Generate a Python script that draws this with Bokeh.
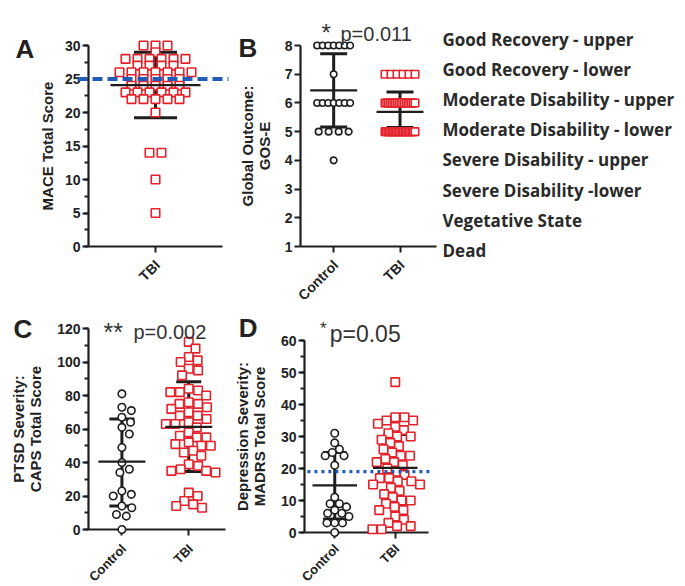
import math
from collections import Counter
from bokeh.plotting import figure
from bokeh.models import Range1d, SingleIntervalTicker, FixedTicker, ColumnDataSource
from bokeh.layouts import column, row
from bokeh.embed import file_html
from bokeh.resources import INLINE
from bokeh.core.properties import value

# ---------------- data ----------------
group_names = ["Control", "TBI"]

# A: MACE total score (TBI only)
mace_tbi = [30, 30, 30, 29, 28, 28, 28, 28, 28, 28, 27, 27, 27, 27,
            26, 26, 26, 26, 26, 26, 26, 25, 25, 25, 25, 25,
            24, 24, 24, 24, 24, 23, 23, 23, 23, 23, 23,
            22, 22, 22, 22, 22, 20, 14, 14, 10, 5]
mace_mean = [24.1]
mace_lo = [19.2]
mace_hi = [29.0]
mace_cutoff = 25

# B: GOS-E
gose_control = [8, 8, 8, 8, 8, 8, 8, 7, 6, 6, 6, 6, 6, 6, 6, 5, 5, 5, 5, 4]
gose_tbi = [7, 7, 7, 7, 7, 7,
            6, 6, 6, 6, 6, 6, 6, 6, 6, 6, 6, 6, 6, 6, 6, 6, 6, 6,
            5, 5, 5, 5, 5, 5, 5, 5, 5, 5, 5, 5, 5, 5, 5, 5, 5, 5, 5, 5, 5, 5]
gose_mean = [6.44, 5.69]
gose_lo = [5.16, 5.14]
gose_hi = [7.71, 6.38]
gose_levels = [8, 7, 6, 5, 4, 3, 2, 1]
gose_labels = ["Good Recovery - upper", "Good Recovery - lower",
               "Moderate Disability - upper", "Moderate Disability - lower",
               "Severe Disability - upper", "Severe Disability -lower",
               "Vegetative State", "Dead"]

# C: CAPS total score
caps_control = [81, 73, 71, 67, 64, 61, 57, 49, 40, 36, 34, 23, 21, 20, 14, 13, 9, 8, 0]
caps_tbi = [112, 108, 103, 101, 100, 96, 95, 92,
            84, 83, 82, 82, 80,
            76, 75, 75, 73, 72,
            70, 68, 68, 66,
            64, 63, 63, 61,
            58, 56, 55, 55,
            52, 51, 50, 50,
            47, 46, 44,
            39, 38, 36, 35, 35, 34,
            22, 20, 17, 15, 14, 13]
caps_mean = [40.5, 61.3]
caps_lo = [14.0, 34.6]
caps_hi = [66.0, 88.2]

# D: MADRS total score
madrs_control = [31, 28, 26, 25, 24, 24, 21, 11, 9, 9, 8, 7, 6, 6, 5, 3, 3, 3, 0]
madrs_tbi = [47, 36, 36, 35, 35, 34, 33, 32, 31, 30, 30, 29, 28, 27, 26, 25,
             24, 24, 23, 22, 22, 21, 20, 19, 18, 17, 17, 16, 16, 15, 15, 14,
             13, 12, 11, 10, 10, 9, 8, 7, 7, 5, 4, 3, 2, 2, 1, 1]
madrs_mean = [14.7, 20.2]
madrs_lo = [4.2, 9.6]
madrs_hi = [25.0, 30.6]
madrs_cutoff = 19

titles = {"B": ("*", "p=0.011"), "C": ("**", "p=0.002"), "D": ("*", "p=0.05")}

# ---------------- styling ----------------
BLACK = "#1e1e1e"
RED = "#e4222b"
BLUE = "#1f5cb8"
TXT = "#222222"
FONT = "Liberation Sans"


class Geo:
    def __init__(self, fig_left, fig_top, bl, bt, fw, fh, xr, yr):
        self.l = fig_left + bl
        self.t = fig_top + bt
        self.w = fw
        self.h = fh
        self.xr = xr
        self.yr = yr

    def x(self, px):
        return self.xr[0] + (px - self.l) / self.w * (self.xr[1] - self.xr[0])

    def y(self, py):
        return self.yr[0] + (self.t + self.h - py) / self.h * (self.yr[1] - self.yr[0])

    def dx(self, d):
        return d / self.w * (self.xr[1] - self.xr[0])

    def dy(self, d):
        return d / self.h * (self.yr[1] - self.yr[0])

    def ppu_y(self):
        return self.h / (self.yr[1] - self.yr[0])


def make_fig(geo, width, height, bl, bt, fw, fh, xticks, yticker, ylabel, lab_standoff):
    p = figure(width=width, height=height,
               x_range=Range1d(*geo.xr), y_range=Range1d(*geo.yr),
               min_border_left=bl, min_border_top=bt,
               min_border_right=width - bl - fw, min_border_bottom=height - bt - fh,
               output_backend="svg", toolbar_location=None, tools="")
    if "frame_align" in p.properties():
        p.frame_align = False
    p.outline_line_color = None
    p.xgrid.visible = False
    p.ygrid.visible = False
    p.background_fill_color = "white"
    p.border_fill_color = "white"
    for ax in (p.xaxis[0], p.yaxis[0]):
        ax.axis_line_width = 2.2
        ax.axis_line_color = BLACK
        ax.major_tick_line_width = 2
        ax.major_tick_line_color = BLACK
        ax.minor_tick_line_width = 2
        ax.minor_tick_line_color = BLACK
        ax.major_tick_in = 0
        ax.major_tick_out = 6
        ax.minor_tick_in = 0
        ax.minor_tick_out = 4
        ax.major_label_text_font = FONT
        ax.major_label_text_font_style = "bold"
        ax.major_label_text_font_size = "14px"
        ax.major_label_text_color = TXT
        ax.major_label_standoff = 2
        ax.axis_label_text_font = FONT
        ax.axis_label_text_font_style = "bold"
        ax.axis_label_text_font_size = "15px"
        ax.axis_label_text_color = TXT
        ax.axis_label_text_line_height = 1.0
    p.xaxis.ticker = FixedTicker(ticks=xticks, minor_ticks=[])
    p.xaxis.major_label_text_color = None
    p.yaxis.ticker = yticker
    p.yaxis.axis_label = ylabel
    p.yaxis.axis_label_standoff = lab_standoff
    return p


def row_offsets(vals, spacing, max_width):
    counts = Counter(vals)
    seen = Counter()
    out = []
    for v in vals:
        n = counts[v]
        s = spacing if n < 2 else min(spacing, max_width / (n - 1))
        k = seen[v]
        seen[v] += 1
        out.append((k - (n - 1) / 2) * s)
    return out


def swarm_offsets(vals, ppu, d):
    placed = []
    out = []
    for v in vals:
        yv = v * ppu
        forb = []
        for (py, px) in placed:
            dyy = abs(py - yv)
            if dyy < d:
                w = math.sqrt(d * d - dyy * dyy)
                forb.append((px - w, px + w))
        cands = [0.0] + [a for a, _ in forb] + [b for _, b in forb]
        cands.sort(key=lambda c: (abs(c), -c))
        best = 0.0
        for c in cands:
            if all(not (a + 1e-6 < c < b - 1e-6) for a, b in forb):
                best = c
                break
        placed.append((yv, best))
        out.append(best)
    return out


def add_points(p, geo, gx, vals, offs, marker, size, color):
    src = ColumnDataSource(dict(x=[gx + geo.dx(o) for o in offs], y=vals))
    p.scatter(x="x", y="y", source=src, marker=marker, size=size, line_color=color,
              line_width=1.6, fill_color="white", level="overlay")


def summary_src(geo, xs, means, los, his, mean_half, cap_half):
    mh = geo.dx(mean_half)
    ch = geo.dx(cap_half)
    return ColumnDataSource(dict(x=xs, m=means, lo=los, hi=his,
                                 xm0=[x - mh for x in xs], xm1=[x + mh for x in xs],
                                 xc0=[x - ch for x in xs], xc1=[x + ch for x in xs]))


def add_bars(p, src):
    p.segment(x0="x", y0="lo", x1="x", y1="hi", source=src, line_width=3, line_color=BLACK)
    p.segment(x0="xc0", y0="hi", x1="xc1", y1="hi", source=src, line_width=3, line_color=BLACK)
    p.segment(x0="xc0", y0="lo", x1="xc1", y1="lo", source=src, line_width=3, line_color=BLACK)


def add_mean(p, src):
    p.segment(x0="xm0", y0="m", x1="xm1", y1="m", source=src, line_width=2.2,
              line_color=BLACK, level="overlay")


def add_cat_labels(p, geo, xs, names, drop, size):
    p.text(x=[gx + geo.dx(2) for gx in xs], y=[geo.yr[0] - geo.dy(drop)] * len(xs), text=names,
           angle=math.pi / 4, text_align="right", text_baseline="middle",
           text_font=value(FONT), text_font_style="bold", text_font_size=value(size),
           text_color=TXT, level="overlay")


def add_text(p, geo, px, py, text, size, bold=False, color=TXT):
    p.text(x=[geo.x(px)], y=[geo.y(py)], text=[text], text_align="left",
           text_baseline="alphabetic", text_font=value(FONT),
           text_font_style="bold" if bold else "normal",
           text_font_size=value(size), text_color=color, level="overlay")


TWO_X = [1, 3]
XR2 = (0, 4.1)
ROW1_H = 306
ROW2_H = 279

# ---------------- Panel A ----------------
gA = Geo(0, 0, 88, 45, 134, 201, (0, 2), (0, 30))
pA = make_fig(gA, 230, ROW1_H, 88, 45, 134, 201, [1],
              SingleIntervalTicker(interval=5, num_minor_ticks=2), "MACE Total Score", 6)
srcA = summary_src(gA, [1], mace_mean, mace_lo, mace_hi, 45, 21.5)
add_bars(pA, srcA)
add_points(pA, gA, 1, mace_tbi, row_offsets(mace_tbi, 12, 80), "square", 8.5, RED)
add_mean(pA, srcA)
pA.segment(x0=[gA.x(77)], y0=[mace_cutoff], x1=[gA.x(228)], y1=[mace_cutoff],
           line_width=4, line_color=BLUE, line_dash="10 5", level="overlay")
add_cat_labels(pA, gA, [1], ["TBI"], 16, "14px")
add_text(pA, gA, 15, 48, "A", "26px", bold=True)

# ---------------- Panel B ----------------
gB = Geo(230, 0, 70, 45, 136, 201, XR2, (1, 8))
pB = make_fig(gB, 454, ROW1_H, 70, 45, 136, 201, TWO_X,
              SingleIntervalTicker(interval=1, num_minor_ticks=0), "Global Outcome:\nGOS-E", 9)
srcB = summary_src(gB, TWO_X, gose_mean, gose_lo, gose_hi, 23.5, 13.5)
add_bars(pB, srcB)
add_points(pB, gB, TWO_X[0], gose_control, row_offsets(gose_control, 10, 33), "circle", 6.5, BLACK)
add_points(pB, gB, TWO_X[1], gose_tbi, row_offsets(gose_tbi, 10, 30), "square", 7.5, RED)
add_mean(pB, srcB)
add_cat_labels(pB, gB, TWO_X, group_names, 16, "14px")
add_text(pB, gB, 238, 47, "B", "26px", bold=True)
add_text(pB, gB, 321, 32, titles["B"][0], "24px", color="#333333")
add_text(pB, gB, 340, 33, titles["B"][1], "20px", color="#333333")
lbl_ppu = 30.1
lbl_end = 8 - (gB.t - 39) / lbl_ppu
pB.extra_y_ranges = {"lbl": Range1d(lbl_end - gB.h / lbl_ppu, lbl_end)}
lsrc = ColumnDataSource(dict(x=[gB.x(442)] * len(gose_levels), y=gose_levels, t=gose_labels))
pB.text(x="x", y="y", text="t", source=lsrc, y_range_name="lbl",
        text_font=value("Open Sans"), text_font_style="bold", text_font_size=value("17px"),
        text_color="#2a2a2a", text_baseline="middle", text_align="left", level="overlay")

# ---------------- Panel C ----------------
gC = Geo(0, ROW1_H, 88, 328 - ROW1_H, 137, 201, XR2, (0, 120))
pC = make_fig(gC, 230, ROW2_H, 88, 328 - ROW1_H, 137, 201, TWO_X,
              SingleIntervalTicker(interval=20, num_minor_ticks=2),
              "PTSD Severity:\nCAPS Total Score", 10)
srcC = summary_src(gC, TWO_X, caps_mean, caps_lo, caps_hi, 23.5, 12.5)
add_bars(pC, srcC)
add_points(pC, gC, TWO_X[0], caps_control, swarm_offsets(caps_control, gC.ppu_y(), 10), "circle", 7.5, BLACK)
add_points(pC, gC, TWO_X[1], caps_tbi, swarm_offsets(caps_tbi, gC.ppu_y(), 9.5), "square", 8.5, RED)
add_mean(pC, srcC)
add_cat_labels(pC, gC, TWO_X, group_names, 17, "13px")
add_text(pC, gC, 13, 328, "C", "26px", bold=True)
add_text(pC, gC, 103, 331, titles["C"][0], "25px", color="#333333")
add_text(pC, gC, 133, 331, titles["C"][1], "20px", color="#333333")

# ---------------- Panel D ----------------
gD = Geo(230, ROW1_H, 70, 340 - ROW1_H, 128, 192, XR2, (0, 60))
pD = make_fig(gD, 230, ROW2_H, 70, 340 - ROW1_H, 128, 192, TWO_X,
              SingleIntervalTicker(interval=10, num_minor_ticks=2),
              "Depression Severity:\nMADRS Total Score", 10)
srcD = summary_src(gD, TWO_X, madrs_mean, madrs_lo, madrs_hi, 23, 12)
add_bars(pD, srcD)
add_points(pD, gD, TWO_X[0], madrs_control, swarm_offsets(madrs_control, gD.ppu_y(), 8), "circle", 7.5, BLACK)
add_points(pD, gD, TWO_X[1], madrs_tbi, swarm_offsets(madrs_tbi, gD.ppu_y(), 9.5), "square", 8.5, RED)
add_mean(pD, srcD)
pD.segment(x0=[gD.x(303)], y0=[madrs_cutoff], x1=[gD.x(433)], y1=[madrs_cutoff],
           line_width=3.2, line_color=BLUE, line_dash="3 4", level="overlay")
add_cat_labels(pD, gD, TWO_X, group_names, 14, "13px")
add_text(pD, gD, 232, 327, "D", "26px", bold=True)
add_text(pD, gD, 316, 328, titles["D"][0], "17px", color="#333333")
add_text(pD, gD, 326, 333, titles["D"][1], "23px", color="#333333")

layout = column(row(pA, pB), row(pC, pD))
open("out.html", "w").write(file_html(layout, INLINE))
